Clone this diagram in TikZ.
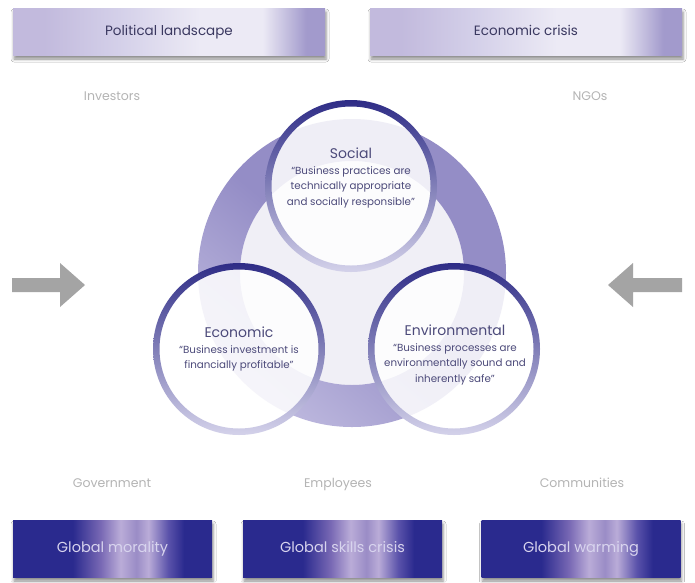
\documentclass[tikz,border=0pt]{standalone}
\usepackage{fontspec}
\setmainfont{Poppins}
\usetikzlibrary{positioning}
\usetikzlibrary{shadows.blur}

\definecolor{rim}{HTML}{2E2C86}
\definecolor{rimlt}{HTML}{D4D2EA}
\definecolor{ringc}{HTML}{948DC6}
\definecolor{ringlt}{HTML}{BDB8DE}
\definecolor{hub}{HTML}{F0EFF6}
\definecolor{pillink}{HTML}{4C4A7A}
\definecolor{stakeink}{HTML}{B4B4B4}
\definecolor{barink}{HTML}{3A3860}
\definecolor{baseink}{HTML}{D8D4EE}
\definecolor{arrowgray}{HTML}{A4A4A4}
\definecolor{tb1}{HTML}{C2BADD}
\definecolor{tb2}{HTML}{D4D0E9}
\definecolor{tb3}{HTML}{ECEAF5}
\definecolor{tb4}{HTML}{A29ACC}
\definecolor{bb1}{HTML}{2A2A8E}
\definecolor{bb2}{HTML}{7868B4}
\definecolor{bb3}{HTML}{BAACD8}
\definecolor{bb4}{HTML}{9A8CC6}
\definecolor{bb5}{HTML}{5A52AA}

\pgfdeclarehorizontalshading{topglow}{100bp}{color(0bp)=(tb1); color(25bp)=(tb1); color(30bp)=(tb1); color(42bp)=(tb2); color(55bp)=(tb3); color(65bp)=(tb3); color(72bp)=(tb4); color(75bp)=(tb4); color(100bp)=(tb4)}
\pgfdeclarehorizontalshading{baseglow}{100bp}{color(0bp)=(bb1); color(25bp)=(bb1); color(40bp)=(bb1); color(47bp)=(bb2); color(52bp)=(bb3); color(56bp)=(bb4); color(59bp)=(bb3); color(64bp)=(bb5); color(68bp)=(bb1); color(75bp)=(bb1); color(100bp)=(bb1)}

\tikzset{
	crisisbar/.style={rectangle, minimum width=312pt, minimum height=47pt, shading=topglow,
		text=barink, font=\fontsize{13.5}{15}\selectfont, text height=10pt, text depth=3pt,
		blur shadow={shadow xshift=1pt, shadow yshift=-4pt, shadow blur radius=3pt, shadow opacity=45}},
	globalbar/.style={rectangle, minimum width=199pt, minimum height=57pt, shading=baseglow,
		text=baseink, font=\fontsize{14.5}{16}\selectfont, text height=10.5pt, text depth=3.5pt,
		blur shadow={shadow xshift=1pt, shadow yshift=-4pt, shadow blur radius=3pt, shadow opacity=45}},
	stake/.style={text=stakeink, font=\fontsize{12.5}{14}\selectfont, text height=9pt, text depth=3pt},
	pillar/.style={circle, minimum size=166pt, inner sep=0pt, fill=white, fill opacity=0.86},
	pillhead/.style={text=pillink, font=\fontsize{14}{16}\selectfont, inner sep=0pt},
	pillquote/.style={text=pillink, font=\fontsize{10.3}{15.3}\selectfont, align=center, inner sep=0pt},
}

\begin{document}
\begin{tikzpicture}[x=1pt,y=-1pt]
	\useasboundingbox (0,0) rectangle (695,582);
	\fill[white] (0,0) rectangle (695,582);

	\node[crisisbar] (politics) at (169,31.5) {Political landscape};
	\node[crisisbar] (crisis) at (526,31.5) {Economic crisis};

	\node[stake] (investors) at (112,97) {Investors};
	\node[stake] (ngos) at (590,97) {NGOs};
	\node[stake] (government) at (112,484) {Government};
	\node[stake] (employees) at (338,484) {Employees};
	\node[stake] (communities) at (582,484) {Communities};

	\node[globalbar] (morality) at (112.5,548.5) {Global morality};
	\node[globalbar] (skills) at (342.5,548.5) {Global skills crisis};
	\node[globalbar] (warming) at (581,548.5) {Global warming};

	\fill[arrowgray] (12,278) -- (60,278) -- (60,263) -- (85,285) -- (60,307) -- (60,292) -- (12,292) -- cycle;
	\fill[arrowgray] (682,278) -- (633,278) -- (633,263) -- (608,285) -- (633,307) -- (633,292) -- (682,292) -- cycle;

	\coordinate (hubc) at (352,273);
	\fill[hub] (hubc) circle[radius=112pt];
	\shade[even odd rule, top color=ringc, bottom color=ringlt, middle color=ringc, shading angle=-40]
	(hubc) circle[radius=154pt] (hubc) circle[radius=112pt];

	\node[pillar] (social) at (351,186) {};
	\node[pillar] (economic) at (239,349) {};
	\node[pillar] (environ) at (454,349) {};
	\foreach \p in {social,economic,environ}
		\shade[even odd rule, top color=rim, middle color=rim, bottom color=rimlt]
		(\p) circle[radius=86pt] (\p) circle[radius=79.5pt];

	\node[pillhead] (sochead) at (351,153) {Social};
	\node[pillquote, below=8pt of sochead] (soctext) {“Business practices are\\technically appropriate\\and socially responsible”};
	\node[pillhead] (ecohead) at (239,332) {Economic};
	\node[pillquote, below=8pt of ecohead] (ecotext) {“Business investment is\\financially profitable”};
	\node[pillhead] (envhead) at (455,330) {Environmental};
	\node[pillquote, below=8pt of envhead] (envtext) {“Business processes are\\environmentally sound and\\inherently safe”};
\end{tikzpicture}
\end{document}
